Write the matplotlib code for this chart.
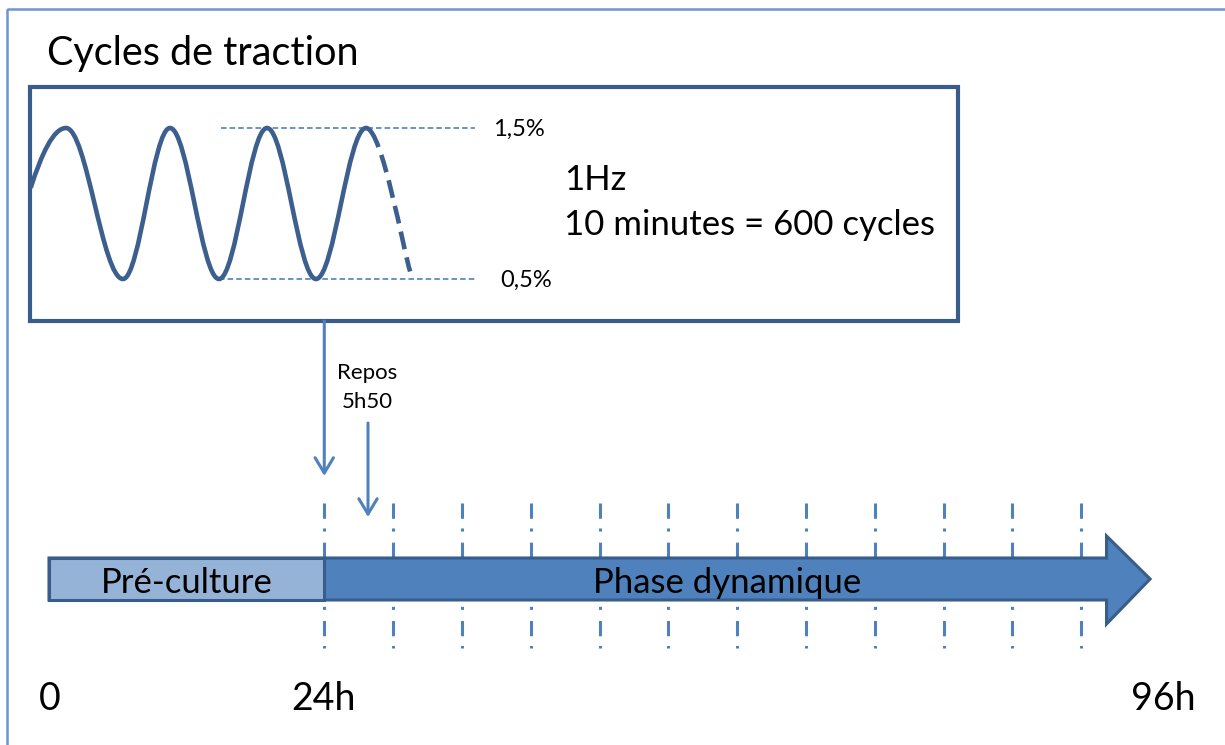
import matplotlib
matplotlib.use("Agg")
import matplotlib.pyplot as plt
from matplotlib.patches import Rectangle, Polygon, PathPatch
from matplotlib.path import Path

plt.rcParams['font.family'] = ['Lato', 'DejaVu Sans']
plt.rcParams['lines.scale_dashes'] = False

# --- content of the diagram ---
TITLE = "Cycles de traction"
STRAIN_LEVELS = [1.5, 0.5]
STRAIN_LABELS = ["1,5%", "0,5%"]
FREQ_LINES = ["1Hz", "10 minutes = 600 cycles"]

# wave extrema (time in s, strain in %)
wave_t = [0.0, 0.354, 0.929, 1.404, 1.899, 2.384, 2.879, 3.384]
wave_strain = [1.11, 1.5, 0.5, 1.5, 0.5, 1.5, 0.5, 1.5]
tail_t = 3.83
tail_strain = 0.55

PHASE_NAMES = ["Pré-culture", "Phase dynamique"]
PHASE_START_H = [0, 24]
PHASE_END_H = [24, 96]
CYCLE_HOURS = [24, 30, 36, 42, 48, 54, 60, 66, 72, 78, 84, 90]
TIME_TICKS_H = [0, 24, 96]
TIME_LABELS = ["0", "24h", "96h"]
REST_LABEL = ["Repos", "5h50"]

# colours
DARK = "#385D8A"
MID = "#4F81BD"
LIGHT = "#95B3D7"
WAVE = "#3C5F8E"
FRAME = "#6E96CB"


def hx(h):
    # hours -> pixel x on the timeline
    return 49 + h * 11.47


def wx(t):
    return 31 + t * 99


def wy(s):
    return 279 - (s - 0.5) * 151


fig = plt.figure(figsize=(12.25, 7.45), dpi=100)
ax = fig.add_axes([0, 0, 1, 1])
ax.set_xlim(0, 1225)
ax.set_ylim(745, 0)
ax.axis("off")

# outer frame (only top/left visible)
ax.add_patch(Rectangle((7, 9), 1400, 900, fill=False, edgecolor=FRAME, lw=1.8))

ax.text(47, 65, TITLE, fontsize=28.5, va="baseline", ha="left", color="black")

# inner box
ax.add_patch(Rectangle((30, 87), 928, 234, fill=False, edgecolor=DARK, lw=3, zorder=3))

# sine wave as bezier segments between extrema
k = 0.364
verts = [(wx(wave_t[0]), wy(wave_strain[0]))]
codes = [Path.MOVETO]
for i in range(1, len(wave_t)):
    x0, y0 = wx(wave_t[i - 1]), wy(wave_strain[i - 1])
    x1, y1 = wx(wave_t[i]), wy(wave_strain[i])
    dx = x1 - x0
    if i == 1:
        c1 = (x0 + dx * 0.3, y0 + (y1 - y0) * 0.55)
    else:
        c1 = (x0 + k * dx, y0)
    c2 = (x1 - k * dx, y1)
    verts += [c1, c2, (x1, y1)]
    codes += [Path.CURVE4] * 3
ax.add_patch(PathPatch(Path(verts, codes), fill=False, edgecolor=WAVE, lw=3.3,
                       capstyle="round", joinstyle="round", zorder=4))

# tail: solid start then dashed
x0, y0 = wx(wave_t[-1]), wy(wave_strain[-1])
x1, y1 = wx(tail_t), wy(tail_strain)
dx = x1 - x0
tail = Path([(x0, y0), (x0 + k * dx, y0), (x1 - 0.15 * dx, y1 - 20), (x1, y1)],
            [Path.MOVETO, Path.CURVE4, Path.CURVE4, Path.CURVE4])
ax.add_patch(PathPatch(tail, fill=False, edgecolor=WAVE, lw=3.3, zorder=4,
                       linestyle=(0, (17, 6, 13, 6, 13, 6, 13, 6, 13, 6, 13, 60))))

# guide lines for min / max strain
ax.plot([221, 475], [wy(STRAIN_LEVELS[0])] * 2, color=MID, lw=1.2,
        linestyle=(0, (4, 2.2)), zorder=2)
ax.plot([219, 475], [wy(STRAIN_LEVELS[1])] * 2, color=MID, lw=1.2,
        linestyle=(0, (4, 2.2)), zorder=2)
ax.text(493, wy(STRAIN_LEVELS[0]) + 8, STRAIN_LABELS[0], fontsize=17, va="baseline")
ax.text(500, wy(STRAIN_LEVELS[1]) + 8, STRAIN_LABELS[1], fontsize=17, va="baseline")

ax.text(564, 190, FREQ_LINES[0], fontsize=25, va="baseline")
ax.text(564, 235, FREQ_LINES[1], fontsize=25, va="baseline")

# connector arrow from box down to 24h, and rest arrow
arrow_kw = dict(arrowstyle="->,head_length=0.55,head_width=0.33", color=MID,
                lw=2.2, shrinkA=0, shrinkB=0, mutation_scale=20)
ax.annotate("", xy=(hx(24), 476), xytext=(hx(24), 321), arrowprops=arrow_kw)
ax.annotate("", xy=(368, 517), xytext=(368, 423), arrowprops=arrow_kw)
ax.text(367, 379, REST_LABEL[0], fontsize=16, ha="center", va="baseline")
ax.text(367, 408, REST_LABEL[1], fontsize=16, ha="center", va="baseline")

# dash-dot marks at each traction cycle
for h in CYCLE_HOURS:
    ax.plot([hx(h), hx(h)], [503, 648], color=MID, lw=2.2,
            linestyle=(0, (11, 7, 2.2, 8)), zorder=1)

# timeline arrow
top, bot = 558, 600
head_top, head_bot = 536, 624
head_base = hx(92.2)
tip = hx(PHASE_END_H[1])
shape = [(hx(PHASE_START_H[0]), top), (head_base, top), (head_base, head_top),
         (tip, (top + bot) / 2), (head_base, head_bot), (head_base, bot),
         (hx(PHASE_START_H[0]), bot)]
ax.add_patch(Polygon(shape, closed=True, facecolor=MID, edgecolor=DARK, lw=2.2,
                     joinstyle="miter", zorder=5))
ax.add_patch(Rectangle((hx(PHASE_START_H[0]), top), hx(PHASE_END_H[0]) - hx(PHASE_START_H[0]),
                       bot - top, facecolor=LIGHT, edgecolor=DARK, lw=2.2, zorder=6))
ax.text(hx(12), 593, PHASE_NAMES[0], fontsize=25, ha="center", va="baseline", zorder=7)
ax.text(727, 593, PHASE_NAMES[1], fontsize=25, ha="center", va="baseline", zorder=7)

# time labels
label_shift = [1, -1, 13]
for h, lab, s in zip(TIME_TICKS_H, TIME_LABELS, label_shift):
    ax.text(hx(h) + s, 710, lab, fontsize=27, ha="center", va="baseline")

fig.savefig("out.png", dpi=100)
